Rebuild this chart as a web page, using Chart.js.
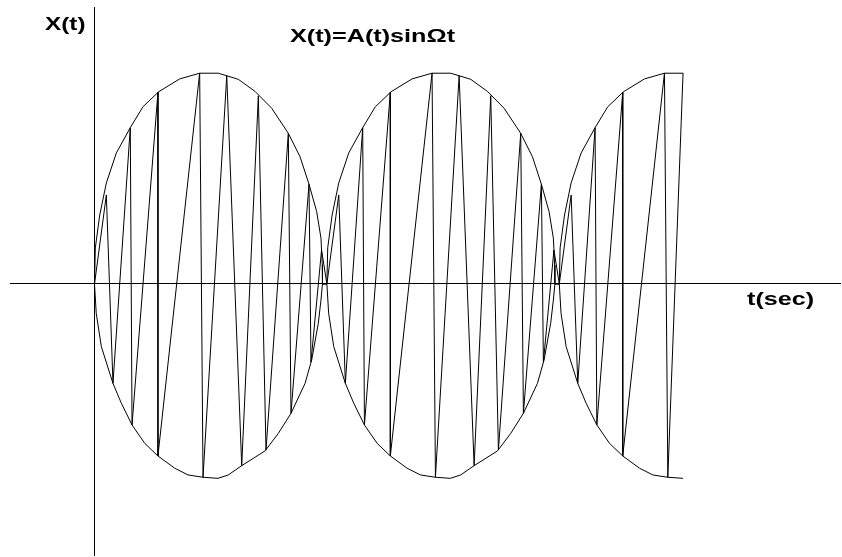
<!DOCTYPE html>
<html>
<head>
<meta charset="utf-8">
<title>X(t)=A(t)sinΩt</title>
<script src="https://cdn.jsdelivr.net/npm/chart.js@4.4.1/dist/chart.umd.min.js"></script>
<style>
  html, body { margin: 0; padding: 0; background: #ffffff; }
  #wrap { width: 842px; height: 557px; }
</style>
</head>
<body>
<div id="wrap"><canvas id="chart" width="842" height="557"></canvas></div>
<script>
// Sampled signal X(t)=A(t)sinΩt : sample times (s) and values
const signalT = [
  0.000, 0.102, 0.159, 0.308, 0.323, 0.546, 0.546, 0.905, 0.934, 1.138, 1.267, 1.410, 1.476, 1.668, 1.691, 1.846, 1.863, 1.954,
  2.000, 2.102, 2.159, 2.308, 2.323, 2.546, 2.546, 2.905, 2.934, 3.138, 3.267, 3.410, 3.476, 3.668, 3.691, 3.846, 3.863, 3.954,
  4.000, 4.102, 4.159, 4.308, 4.323, 4.546, 4.546, 4.905, 4.934, 5.065
];
const signalX = [
  0.000, 0.422, -0.471, 0.741, -0.668, 0.909, -0.815, 1.000, -0.916, 0.987, -0.861, 0.892, -0.787, 0.714, -0.613, 0.473, -0.370, 0.161,
  0.000, 0.422, -0.471, 0.741, -0.668, 0.909, -0.815, 1.000, -0.916, 0.987, -0.861, 0.892, -0.787, 0.714, -0.613, 0.473, -0.370, 0.161,
  0.000, 0.422, -0.471, 0.741, -0.668, 0.909, -0.815, 1.000, -0.916, 1.000
];

// Upper envelope +A(t)
const upperT = [
  0.000, 0.007, 0.045, 0.102, 0.188, 0.308, 0.417, 0.552, 0.733, 0.905, 1.065, 1.138, 1.238, 1.381, 1.525, 1.668, 1.769, 1.846, 1.912, 1.949, 1.960, 1.962,
  2.000, 2.007, 2.045, 2.102, 2.188, 2.308, 2.417, 2.552, 2.733, 2.905, 3.065, 3.138, 3.238, 3.381, 3.525, 3.668, 3.769, 3.846, 3.912, 3.949, 3.960, 3.962,
  4.000, 4.007, 4.045, 4.102, 4.188, 4.308, 4.417, 4.552, 4.733, 4.905, 5.065
];
const upperA = [
  0.000, 0.171, 0.327, 0.479, 0.621, 0.741, 0.840, 0.911, 0.972, 0.999, 0.999, 0.987, 0.970, 0.913, 0.833, 0.714, 0.603, 0.473, 0.343, 0.217, 0.090, 0.000,
  0.000, 0.171, 0.327, 0.479, 0.621, 0.741, 0.840, 0.911, 0.972, 0.999, 0.999, 0.987, 0.970, 0.913, 0.833, 0.714, 0.603, 0.473, 0.343, 0.217, 0.090, 0.000,
  0.000, 0.171, 0.327, 0.479, 0.621, 0.741, 0.840, 0.911, 0.972, 0.999, 0.999
];

// Lower envelope -A(t)
const lowerT = [
  0.000, 0.015, 0.059, 0.159, 0.231, 0.323, 0.432, 0.546, 0.690, 0.805, 0.934, 1.063, 1.151, 1.267, 1.468, 1.582, 1.691, 1.812, 1.869, 1.926, 1.949, 1.962,
  2.000, 2.015, 2.059, 2.159, 2.231, 2.323, 2.432, 2.546, 2.690, 2.805, 2.934, 3.063, 3.151, 3.267, 3.468, 3.582, 3.691, 3.812, 3.869, 3.926, 3.949, 3.962,
  4.000, 4.015, 4.059, 4.159, 4.231, 4.323, 4.432, 4.546, 4.690, 4.805, 4.934, 5.065
];
const lowerA = [
  0.000, -0.139, -0.297, -0.471, -0.565, -0.668, -0.755, -0.815, -0.873, -0.905, -0.916, -0.921, -0.905, -0.861, -0.791, -0.708, -0.613, -0.471, -0.360, -0.186, -0.076, 0.000,
  0.000, -0.139, -0.297, -0.471, -0.565, -0.668, -0.755, -0.815, -0.873, -0.905, -0.916, -0.921, -0.905, -0.861, -0.791, -0.708, -0.613, -0.471, -0.360, -0.186, -0.076, 0.000,
  0.000, -0.139, -0.297, -0.471, -0.565, -0.668, -0.755, -0.815, -0.873, -0.905, -0.916, -0.921
];

// Texts
const yAxisLabel = 'X(t)';
const formulaLabel = 'X(t)=A(t)sinΩt';
const xAxisLabel = 't(sec)';

const toPoints = (xs, ys) => xs.map((x, i) => ({ x: x, y: ys[i] }));

const lineStyle = {
  borderColor: '#000000',
  borderWidth: 1,
  pointRadius: 0,
  pointHoverRadius: 0,
  tension: 0,
  fill: false,
  borderJoinStyle: 'bevel',
  spanGaps: true
};

// Axis names and formula, drawn as bold text slightly widened
const textPlugin = {
  id: 'chartTexts',
  afterDraw(chart) {
    const ctx = chart.ctx;
    const put = (text, x, y, size, stretch) => {
      ctx.save();
      ctx.font = 'bold ' + size + 'px "Liberation Sans", Arial, sans-serif';
      ctx.fillStyle = '#000000';
      ctx.textBaseline = 'alphabetic';
      ctx.textAlign = 'left';
      ctx.translate(x, y);
      ctx.scale(stretch, 1);
      ctx.fillText(text, 0, 0);
      ctx.restore();
    };
    put(yAxisLabel, 45, 30, 18, 1.35);
    put(formulaLabel, 290, 42, 18, 1.4);
    put(xAxisLabel, 747, 305, 18, 1.4);
  }
};

const hiddenAxisBase = {
  type: 'linear',
  display: true,
  grid: { display: false, drawTicks: false },
  ticks: { display: false },
  border: { display: true, color: '#000000', width: 1 }
};

new Chart(document.getElementById('chart'), {
  type: 'line',
  data: {
    datasets: [
      Object.assign({ label: '+A(t)', data: toPoints(upperT, upperA) }, lineStyle),
      Object.assign({ label: '-A(t)', data: toPoints(lowerT, lowerA) }, lineStyle),
      Object.assign({ label: 'X(t)', data: toPoints(signalT, signalX) }, lineStyle)
    ]
  },
  options: {
    responsive: false,
    animation: false,
    devicePixelRatio: 1,
    layout: { padding: { left: 10, right: 2, top: 7, bottom: 2 } },
    plugins: {
      legend: { display: false },
      tooltip: { enabled: false },
      title: { display: false }
    },
    events: [],
    scales: {
      x: Object.assign({}, hiddenAxisBase, {
        position: { y: 0 },
        min: -0.7272,
        max: 6.4157,
        afterFit: (s) => { s.height = 0; }
      }),
      y: Object.assign({}, hiddenAxisBase, {
        position: { x: 0 },
        min: -1.2844,
        max: 1.3128,
        afterFit: (s) => { s.width = 0; }
      })
    }
  },
  plugins: [textPlugin]
});
</script>
</body>
</html>
